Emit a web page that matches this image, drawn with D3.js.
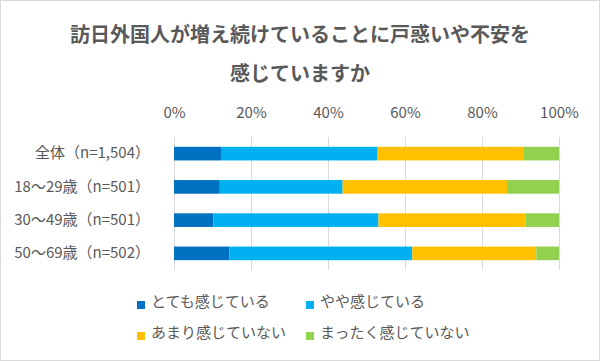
<!DOCTYPE html>
<html>
<head>
<meta charset="utf-8">
<script src="https://cdn.jsdelivr.net/npm/d3@7"></script>
<style>
  body { margin: 0; background: #fff; }
  svg { display: block; font-family: "Noto Sans CJK JP", "Noto Sans", sans-serif; }
</style>
</head>
<body>
<div id="chart"></div>
<script>
// Data
var categories = ["全体（n=1,504）", "18～29歳（n=501）", "30～49歳（n=501）", "50～69歳（n=502）"];
var seriesNames = ["とても感じている", "やや感じている", "あまり感じていない", "まったく感じていない"];
var veryMuch = [12.2, 11.9, 10.2, 14.4];
var somewhat = [40.7, 31.9, 42.9, 47.5];
var notMuch = [37.8, 42.7, 38.2, 32.2];
var notAtAll = [9.3, 13.5, 8.7, 5.9];
var tickValues = [0, 0.2, 0.4, 0.6, 0.8, 1.0];
var colors = ["#0070C0", "#00B0F0", "#FFC000", "#92D050"];

var svgWidth = 600;
var svgHeight = 361;

var margin = { top: 137, right: 41, bottom: 91, left: 174 };
var width = svgWidth - margin.left - margin.right;
var height = svgHeight - margin.top - margin.bottom;

var svg = d3.select("#chart")
  .append("svg")
  .attr("width", svgWidth)
  .attr("height", svgHeight);

// outer frame
svg.append("rect")
  .attr("x", 0.5).attr("y", 0.5)
  .attr("width", svgWidth - 1).attr("height", svgHeight - 1)
  .attr("fill", "#fff")
  .attr("stroke", "#d9d9d9");

// title
var title = svg.append("text")
  .attr("text-anchor", "middle")
  .attr("fill", "#595959")
  .style("font-size", "20px")
  .style("font-weight", "bold");
title.append("tspan").attr("x", 300).attr("y", 42).text("訪日外国人が増え続けていることに戸惑いや不安を");
title.append("tspan").attr("x", 300).attr("y", 81).text("感じていますか");

var chartGroup = svg.append("g")
  .attr("transform", `translate(${margin.left}, ${margin.top})`);

var rows = categories.map(function(c, i) {
  return { name: c, values: [veryMuch[i], somewhat[i], notMuch[i], notAtAll[i]] };
});

var xScale = d3.scaleLinear().domain([0, 1]).range([0, width]);
var yScale = d3.scaleBand().domain(categories).range([0, height]).paddingInner(0.59).paddingOuter(0.295);

// gridlines
chartGroup.selectAll(".grid")
  .data(tickValues)
  .enter()
  .append("line")
  .attr("x1", d => Math.round(xScale(d)) + 0.5)
  .attr("x2", d => Math.round(xScale(d)) + 0.5)
  .attr("y1", 0)
  .attr("y2", height)
  .attr("stroke", "#d9d9d9");

// top axis labels
var topAxis = d3.axisTop(xScale)
  .tickValues(tickValues)
  .tickFormat(d3.format(".0%"))
  .tickSize(0)
  .tickPadding(19);

var xAxisG = chartGroup.append("g").call(topAxis);
xAxisG.select(".domain").remove();
xAxisG.selectAll("text")
  .attr("fill", "#595959")
  .style("font-size", "15px")
  .style("font-family", "\"Noto Sans CJK JP\", sans-serif");

// category labels
var leftAxis = d3.axisLeft(yScale).tickSize(0).tickPadding(24);
var yAxisG = chartGroup.append("g").call(leftAxis);
yAxisG.select(".domain").remove();
yAxisG.selectAll("text")
  .attr("fill", "#595959")
  .style("font-size", "15px")
  .style("font-family", "\"Noto Sans CJK JP\", sans-serif");

// stacked bars
rows.forEach(function(row) {
  var start = 0;
  row.values.forEach(function(v, j) {
    chartGroup.append("rect")
      .attr("x", xScale(start / 100))
      .attr("y", yScale(row.name))
      .attr("width", xScale(v / 100) - xScale(0))
      .attr("height", yScale.bandwidth())
      .attr("fill", colors[j]);
    start += v;
  });
});

// legend
var legendPos = [[137, 302], [306, 302], [137, 333], [306, 333]];
var legend = svg.selectAll(".legend")
  .data(seriesNames)
  .enter()
  .append("g")
  .attr("transform", (d, i) => `translate(${legendPos[i][0]}, ${legendPos[i][1]})`);

legend.append("rect")
  .attr("x", 0).attr("y", -1)
  .attr("width", 8).attr("height", 8)
  .attr("fill", (d, i) => colors[i]);

legend.append("text")
  .attr("x", 14)
  .attr("y", 0)
  .attr("dy", "0.35em")
  .attr("fill", "#595959")
  .style("font-size", "15px")
  .text(d => d);
</script>
</body>
</html>
